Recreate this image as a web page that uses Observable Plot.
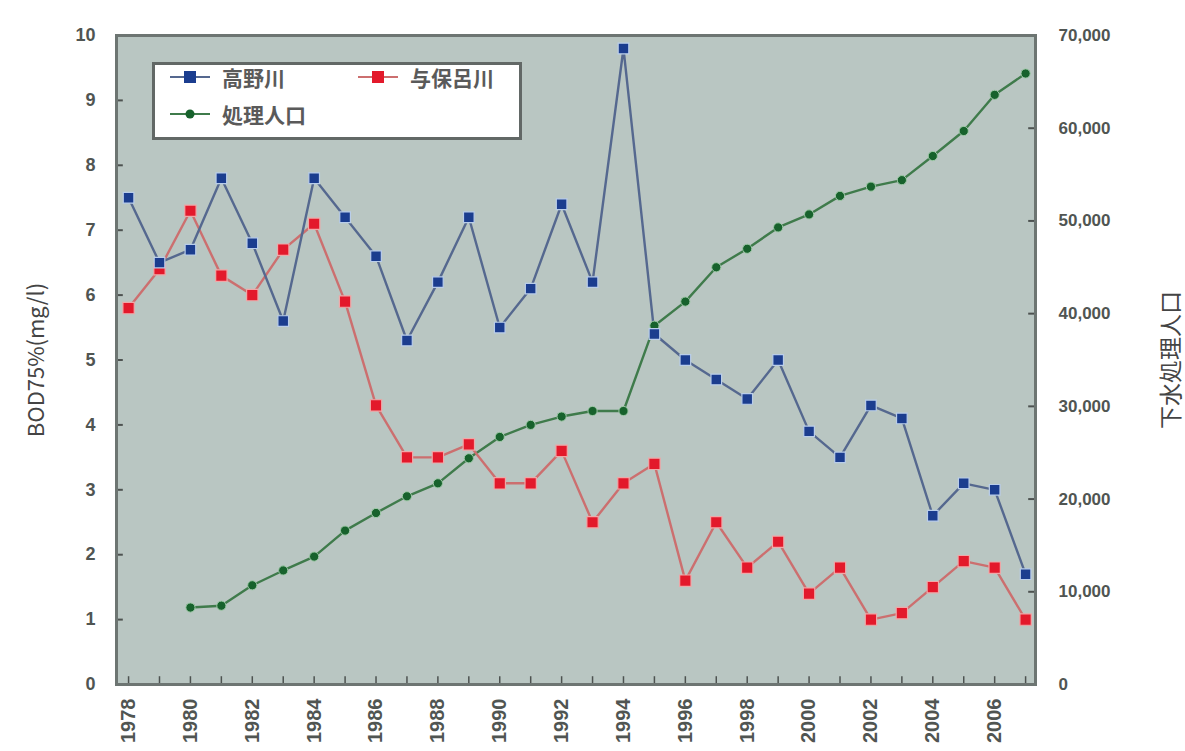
<!DOCTYPE html>
<html><head><meta charset="utf-8">
<script src="https://cdn.jsdelivr.net/npm/d3@7"></script>
<script src="https://cdn.jsdelivr.net/npm/@observablehq/plot@0.6"></script>
<style>
body{margin:0;background:#fff;}
#wrap{position:relative;width:1185px;height:751px;overflow:hidden;background:#fff;}
#legend{position:absolute;left:152px;top:62px;width:364px;height:72px;background:#fff;border:3px solid #626866;font-family:"Noto Sans CJK JP",sans-serif;font-size:21px;font-weight:700;color:#5a5a5a;}
.item{position:absolute;display:flex;align-items:center;height:26px;}
.item svg{margin-right:10px;}
</style></head>
<body><div id="wrap"><div id="legend"></div></div>
<script>
// ---- data ----
const years = [1978,1979,1980,1981,1982,1983,1984,1985,1986,1987,1988,1989,1990,1991,1992,1993,1994,1995,1996,1997,1998,1999,2000,2001,2002,2003,2004,2005,2006,2007];
const takano = [7.5,6.5,6.7,7.8,6.8,5.6,7.8,7.2,6.6,5.3,6.2,7.2,5.5,6.1,7.4,6.2,9.8,5.4,5.0,4.7,4.4,5.0,3.9,3.5,4.3,4.1,2.6,3.1,3.0,1.7];
const yohoro = [5.8,6.4,7.3,6.3,6.0,6.7,7.1,5.9,4.3,3.5,3.5,3.7,3.1,3.1,3.6,2.5,3.1,3.4,1.6,2.5,1.8,2.2,1.4,1.8,1.0,1.1,1.5,1.9,1.8,1.0];
const popYears = [1980,1981,1982,1983,1984,1985,1986,1987,1988,1989,1990,1991,1992,1993,1994,1995,1996,1997,1998,1999,2000,2001,2002,2003,2004,2005,2006,2007];
const population = [8300,8500,10700,12300,13800,16600,18500,20300,21700,24400,26700,28000,28900,29500,29500,38700,41300,45000,47000,49300,50700,52700,53700,54400,57000,59700,63600,65900];
const labelYears = [1978,1980,1982,1984,1986,1988,1990,1992,1994,1996,1998,2000,2002,2004,2006];
const bodTicks = [0,1,2,3,4,5,6,7,8,9,10];
const popTicks = [0,10000,20000,30000,40000,50000,60000,70000];
const seriesNames = ["高野川","与保呂川","処理人口"];
const yLabelLeft = "BOD75%(mg/l)";
const yLabelRight = "下水処理人口";

const popMax = 70000, bodMax = 10;
const toLeft = v => v / popMax * bodMax;

const tTakano = years.map((y,i)=>({year:y, v:takano[i]}));
const tYohoro = years.map((y,i)=>({year:y, v:yohoro[i]}));
const tPop = popYears.map((y,i)=>({year:y, v:toLeft(population[i])}));

const blue = "#1b3d8f", blueLine = "#55688f";
const red = "#e3192b", redLine = "#cc6f6f";
const green = "#17622c", greenLine = "#3f7b4b";

const xDomain = [1977.61, 2007.32];
const tickFill = "#505552";

const chart = Plot.plot({
  width: 1185, height: 751,
  marginLeft: 116, marginRight: 150, marginTop: 35, marginBottom: 67,
  x: {domain: xDomain, axis: null},
  y: {domain: [0, bodMax]},
  style: {fontFamily: "'Liberation Sans', Arial, sans-serif", fontSize: "18px", color: "#4a4a4a", background: "transparent", overflow: "visible"},
  marks: [
    Plot.frame({fill: "#b9c6c2"}),
    Plot.ruleY(bodTicks, {y: d => d, x1: xDomain[0], x2: xDomain[0] + 0.22, stroke: "#4d5250", strokeWidth: 2}),
    Plot.ruleY(popTicks, {y: d => toLeft(d), x1: xDomain[1] - 0.22, x2: xDomain[1], stroke: "#4d5250", strokeWidth: 2}),
    Plot.ruleX(years, {x: d => d, y1: 0, y2: 0.12, stroke: "#4d5250", strokeWidth: 1.5}),
    Plot.frame({stroke: "#6d7572", strokeWidth: 3}),
    Plot.axisY(bodTicks, {anchor: "left", tickSize: 0, tickPadding: 21, label: null, fill: tickFill, fontWeight: "bold", fontSize: 18, tickFormat: d => String(d)}),
    Plot.axisY(popTicks.map(toLeft), {anchor: "right", tickSize: 0, tickPadding: 23, label: null, fill: tickFill, fontWeight: "bold", fontSize: 17,
      tickFormat: d => d3.format(",")(Math.round(d / bodMax * popMax))}),
    Plot.text(labelYears, {x: d => d, text: d => String(d), frameAnchor: "bottom", dy: 14, rotate: -90, textAnchor: "end", lineAnchor: "middle", fill: tickFill, fontWeight: "bold", fontSize: 20}),
    Plot.text([yLabelLeft], {frameAnchor: "left", dx: -80, rotate: -90, textAnchor: "middle", lineAnchor: "middle", fill: "#444", fontSize: 22, fontFamily: "'Noto Sans CJK JP', sans-serif"}),
    Plot.text([yLabelRight], {frameAnchor: "right", dx: 136, rotate: -90, textAnchor: "middle", lineAnchor: "middle", fill: "#444", fontSize: 23, fontFamily: "'Noto Sans CJK JP', sans-serif"}),
    // lines
    Plot.line(tPop, {x: "year", y: "v", stroke: greenLine, strokeWidth: 2.4}),
    Plot.line(tYohoro, {x: "year", y: "v", stroke: redLine, strokeWidth: 2.4}),
    Plot.line(tTakano, {x: "year", y: "v", stroke: blueLine, strokeWidth: 2.4}),
    Plot.dot(tPop, {x: "year", y: "v", r: 4.6, fill: green, stroke: "#9fcaa8", strokeWidth: 1}),
    Plot.dot(tYohoro, {x: "year", y: "v", symbol: "square", r: 6.4, fill: red, stroke: "#f0a8a8", strokeWidth: 1.2}),
    Plot.dot(tTakano, {x: "year", y: "v", symbol: "square", r: 6.0, fill: blue, stroke: "#b9cdea", strokeWidth: 1.2})
  ]
});
document.getElementById("wrap").prepend(chart);

// legend
const legend = document.getElementById("legend");
const items = [
  {name: seriesNames[0], line: blueLine, fill: blue, shape: "square", left: 15, top: 12},
  {name: seriesNames[1], line: redLine, fill: red, shape: "square", left: 203, top: 12},
  {name: seriesNames[2], line: greenLine, fill: green, shape: "circle", left: 15, top: 49}
];
for (const it of items) {
  const div = document.createElement("div");
  div.className = "item";
  div.style.left = it.left + "px";
  div.style.top = (it.top - 13) + "px";
  const mk = it.shape === "square"
    ? `<rect x="14" y="7" width="12" height="12" fill="${it.fill}"/>`
    : `<circle cx="20" cy="13" r="4.5" fill="${it.fill}"/>`;
  div.innerHTML = `<svg width="42" height="26"><line x1="0" x2="40" y1="13" y2="13" stroke="${it.line}" stroke-width="2.2"/>${mk}</svg><span>${it.name}</span>`;
  legend.appendChild(div);
}
</script>
</body></html>
